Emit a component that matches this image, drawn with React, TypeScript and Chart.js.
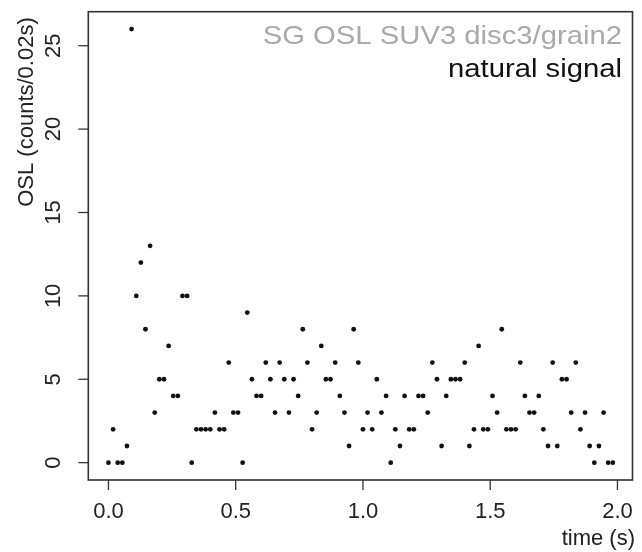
import React, { useEffect, useRef } from "react";
import { Chart, registerables } from "chart.js";

Chart.register(...registerables);

// channel times (s)
const times = [
  0, 0.0182, 0.0364, 0.0545, 0.0727, 0.0909, 0.1091, 0.1273, 0.1455, 0.1636,
  0.1818, 0.2, 0.2182, 0.2364, 0.2545, 0.2727, 0.2909, 0.3091, 0.3273, 0.3455,
  0.3636, 0.3818, 0.4, 0.4182, 0.4364, 0.4545, 0.4727, 0.4909, 0.5091, 0.5273,
  0.5455, 0.5636, 0.5818, 0.6, 0.6182, 0.6364, 0.6545, 0.6727, 0.6909, 0.7091,
  0.7273, 0.7455, 0.7636, 0.7818, 0.8, 0.8182, 0.8364, 0.8545, 0.8727, 0.8909,
  0.9091, 0.9273, 0.9455, 0.9636, 0.9818, 1.0, 1.0182, 1.0364, 1.0545, 1.0727,
  1.0909, 1.1091, 1.1273, 1.1455, 1.1636, 1.1818, 1.2, 1.2182, 1.2364, 1.2545,
  1.2727, 1.2909, 1.3091, 1.3273, 1.3455, 1.3636, 1.3818, 1.4, 1.4182, 1.4364,
  1.4545, 1.4727, 1.4909, 1.5091, 1.5273, 1.5455, 1.5636, 1.5818, 1.6, 1.6182,
  1.6364, 1.6545, 1.6727, 1.6909, 1.7091, 1.7273, 1.7455, 1.7636, 1.7818, 1.8,
  1.8182, 1.8364, 1.8545, 1.8727, 1.8909, 1.9091, 1.9273, 1.9455, 1.9636, 1.9818,
];

// OSL counts per channel
const counts = [
  0, 2, 0, 0, 1, 26, 10, 12, 8, 13,
  3, 5, 5, 7, 4, 4, 10, 10, 0, 2,
  2, 2, 2, 3, 2, 2, 6, 3, 3, 0,
  9, 5, 4, 4, 6, 5, 3, 6, 5, 3,
  5, 4, 8, 6, 2, 3, 7, 5, 5, 6,
  4, 3, 1, 8, 6, 2, 3, 2, 5, 3,
  4, 0, 2, 1, 4, 2, 2, 4, 4, 3,
  6, 5, 1, 4, 5, 5, 5, 6, 1, 2,
  7, 2, 2, 4, 3, 8, 2, 2, 2, 6,
  4, 3, 3, 4, 2, 1, 6, 1, 5, 5,
  3, 6, 2, 3, 1, 0, 1, 3, 0, 0,
];

const xTicks = [0, 0.5, 1, 1.5, 2];
const xTickLabels = ["0.0", "0.5", "1.0", "1.5", "2.0"];
const yTicks = [0, 5, 10, 15, 20, 25];
const yTickLabels = ["0", "5", "10", "15", "20", "25"];

const xTitle = "time (s)";
const yTitle = "OSL (counts/0.02s)";
const legendLines = ["SG OSL SUV3 disc3/grain2", "natural signal"];

const FONT = "'Liberation Sans', Arial, Helvetica, sans-serif";

const axesPlugin = {
  id: "rAxes",
  afterDraw(chart: any) {
    const ctx = chart.ctx as CanvasRenderingContext2D;
    const { left, right, top, bottom } = chart.chartArea;
    const xs = chart.scales.x;
    const ys = chart.scales.y;
    ctx.save();
    // box
    ctx.strokeStyle = "#333";
    ctx.lineWidth = 1.6;
    ctx.strokeRect(left, top, right - left, bottom - top);

    // x ticks
    ctx.lineWidth = 1.3;
    ctx.fillStyle = "#222";
    ctx.font = `22px ${FONT}`;
    ctx.textAlign = "center";
    ctx.textBaseline = "alphabetic";
    xTicks.forEach((v, i) => {
      const px = xs.getPixelForValue(v);
      ctx.beginPath();
      ctx.moveTo(px, bottom);
      ctx.lineTo(px, bottom + 10);
      ctx.stroke();
      ctx.fillText(xTickLabels[i], px, 518);
    });
    // y ticks
    yTicks.forEach((v, i) => {
      const py = ys.getPixelForValue(v);
      ctx.beginPath();
      ctx.moveTo(left, py);
      ctx.lineTo(left - 10, py);
      ctx.stroke();
      ctx.save();
      ctx.translate(60, py);
      ctx.rotate(-Math.PI / 2);
      ctx.textAlign = "center";
      ctx.fillText(yTickLabels[i], 0, 0);
      ctx.restore();
    });

    // axis titles
    ctx.textAlign = "right";
    ctx.fillText(xTitle, 635, 545);
    ctx.save();
    ctx.translate(33, 112);
    ctx.rotate(-Math.PI / 2);
    ctx.textAlign = "center";
    ctx.fillText(yTitle, 0, 0);
    ctx.restore();

    // legend text
    ctx.font = `25px ${FONT}`;
    const colors = ["#aaaaaa", "#111111"];
    const baselines = [44, 77];
    legendLines.forEach((t, i) => {
      ctx.save();
      ctx.translate(622, baselines[i]);
      ctx.scale(1.17, 1);
      ctx.textAlign = "right";
      ctx.fillStyle = colors[i];
      ctx.fillText(t, 0, 0);
      ctx.restore();
    });
    ctx.restore();
  },
};

export default function App() {
  const ref = useRef<HTMLCanvasElement | null>(null);
  useEffect(() => {
    if (!ref.current) return;
    const data = times.map((t, i) => ({ x: t, y: counts[i] }));
    const chart = new Chart(ref.current, {
      type: "scatter",
      data: {
        datasets: [
          {
            data,
            pointRadius: 2.4,
            pointHoverRadius: 2.4,
            pointBackgroundColor: "#111",
            pointBorderWidth: 0,
            borderWidth: 0,
          },
        ],
      },
      options: {
        responsive: false,
        animation: false,
        events: [],
        layout: { padding: { left: 88.3, top: 11.7, right: 9.5, bottom: 72 } },
        plugins: { legend: { display: false }, tooltip: { enabled: false } },
        scales: {
          x: { type: "linear", display: false, min: -0.0792, max: 2.0592 },
          y: { type: "linear", display: false, min: -1.04, max: 27.04 },
        },
      },
      plugins: [axesPlugin],
    });
    return () => chart.destroy();
  }, []);
  return (
    <div style={{ position: "fixed", left: 0, top: 0, width: 642, height: 552, background: "#fff" }}>
      <canvas ref={ref} width={642} height={552} style={{ display: "block" }} />
    </div>
  );
}
